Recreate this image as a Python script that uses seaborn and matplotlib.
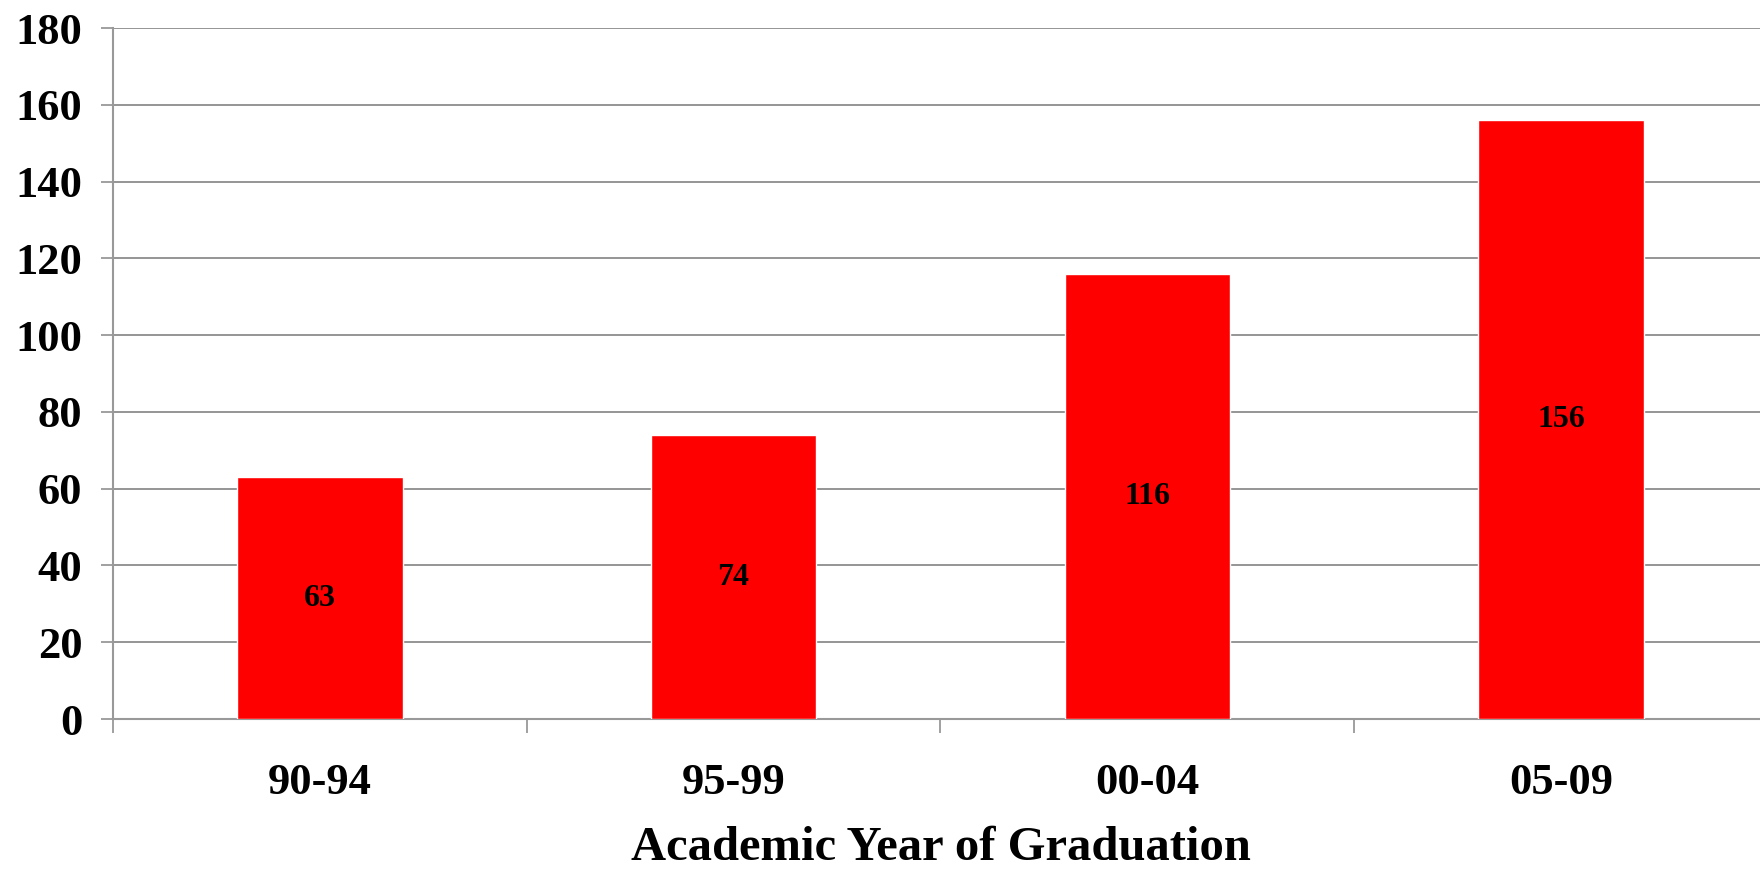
import matplotlib
matplotlib.use("Agg")
import matplotlib.pyplot as plt
import seaborn as sns
import pandas as pd

# chart data
periods = ["90-94", "95-99", "00-04", "05-09"]
graduates = [63, 74, 116, 156]

df = pd.DataFrame({"period": periods, "count": graduates})

sns.set_style("white")
plt.rcParams["font.family"] = ["Liberation Serif", "DejaVu Serif"]
plt.rcParams["font.weight"] = "bold"
plt.rcParams["text.color"] = "black"
plt.rcParams["xtick.color"] = "black"
plt.rcParams["ytick.color"] = "black"
plt.rcParams["axes.labelcolor"] = "black"

fig = plt.figure(figsize=(17.6, 8.74), dpi=100)
ax = fig.add_axes([0.0642, 0.1773, 0.9403, 0.7906])

sns.barplot(data=df, x="period", y="count", color="#ff0000", width=0.4,
            saturation=1, ax=ax, zorder=3)

ax.set_xlim(-0.5, len(periods) - 0.5)
ax.set_ylim(0, 180)
ax.set_yticks(range(0, 181, 20))
ax.yaxis.grid(True, color="#8c8c8c", linewidth=1.3, zorder=0)
ax.set_axisbelow(True)

for s in ["top", "right"]:
    ax.spines[s].set_visible(False)
for s in ["left", "bottom"]:
    ax.spines[s].set_color("#999999")
    ax.spines[s].set_linewidth(1.5)

ax.tick_params(axis="y", direction="out", length=9, width=1.3, color="#999999",
               labelcolor="black", labelsize=32, pad=13, left=True)
ax.tick_params(axis="x", which="major", length=0, labelsize=32, pad=32,
               labelcolor="black")
ax.set_xticks([i + 0.5 for i in range(-1, len(periods))], minor=True)
ax.tick_params(axis="x", which="minor", direction="out", length=10, width=1.3,
               color="#999999", bottom=True)

for lbl in ax.get_xticklabels() + ax.get_yticklabels():
    lbl.set_fontweight("bold")

ax.set_ylabel("")
ax.set_xlabel("Academic Year of Graduation", fontsize=35, fontweight="bold",
              labelpad=16, color="black")

for i, v in enumerate(graduates):
    ax.text(i, v / 2, str(v), ha="center", va="center", fontsize=23,
            fontweight="bold", color="black", zorder=4)

fig.savefig("out.png", dpi=100)
